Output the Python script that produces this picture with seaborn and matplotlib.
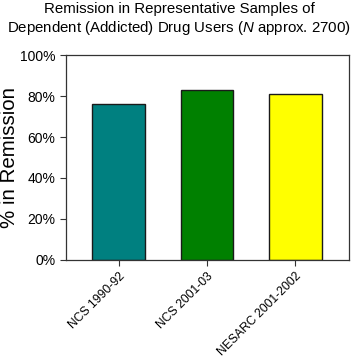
import pandas as pd
import seaborn as sns
import matplotlib.pyplot as plt
from matplotlib.ticker import PercentFormatter

# chart data
surveys = ['NCS 1990-92', 'NCS 2001-03', 'NESARC 2001-2002']
remission = [76, 83, 81]
bar_colors = ['#008080', '#008000', '#ffff00']

df = pd.DataFrame({'survey': surveys, 'remission': remission})

sns.set_style('white')
plt.rcParams['font.family'] = ['Liberation Sans', 'DejaVu Sans']
plt.rcParams['text.color'] = 'black'
plt.rcParams['axes.labelcolor'] = 'black'
plt.rcParams['xtick.color'] = 'black'
plt.rcParams['ytick.color'] = 'black'
plt.rcParams['mathtext.fontset'] = 'custom'
plt.rcParams['mathtext.it'] = 'Liberation Sans:italic'
plt.rcParams['mathtext.rm'] = 'Liberation Sans'

fig = plt.figure(figsize=(3.58, 3.58), dpi=100)
ax = fig.add_axes([0.184, 0.274, 0.791, 0.572])

sns.barplot(data=df, x='survey', y='remission', hue='survey',
            palette=bar_colors, saturation=1, width=0.6,
            edgecolor='#1a1a1a', linewidth=1.0, legend=False, ax=ax)

ax.set_ylim(0, 100)
ax.set_xlim(-0.6, 2.61)
ax.set_yticks(range(0, 101, 20))
ax.yaxis.set_major_formatter(PercentFormatter(decimals=0))
ax.set_xlabel('')
ax.set_ylabel('% in Remission', fontsize=14.8, va='center')
ax.yaxis.set_label_coords(-0.2, 0.5)
ax.tick_params(axis='both', direction='out', length=4, width=0.8,
               color='#333333', left=True, bottom=True)
ax.tick_params(axis='y', labelsize=10)
ax.tick_params(axis='x', labelsize=8.7)
plt.setp(ax.get_xticklabels(), rotation=45, ha='right',
         rotation_mode='anchor')

for side in ax.spines.values():
    side.set_visible(True)
    side.set_color('#333333')
    side.set_linewidth(0.9)

fig.text(0.5, 0.995, 'Remission in Representative Samples of',
         ha='center', va='top', fontsize=10.8)
fig.text(0.5, 0.948, 'Dependent (Addicted) Drug Users ($\\it{N}$ approx. 2700)',
         ha='center', va='top', fontsize=10.8)

fig.savefig('out.png', dpi=100)
